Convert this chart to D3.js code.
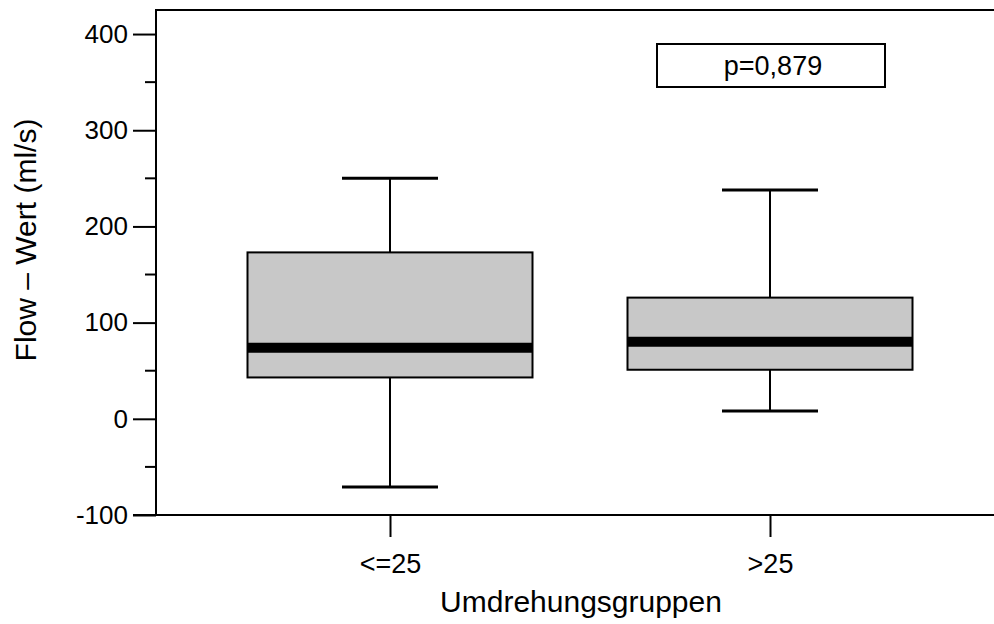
<!DOCTYPE html>
<html>
<head>
<meta charset="utf-8">
<script src="https://cdn.jsdelivr.net/npm/d3@7"></script>
<style>
  body { margin: 0; background: #fff; }
  svg { display: block; font-family: "Liberation Sans", Arial, sans-serif; }
</style>
</head>
<body>
<svg id="chart" width="994" height="624"></svg>
<script>
/* ── Data ───────────────────────────────────────────────────────────────────── */
const groups  = ["<=25", ">25"];
const wMin    = [-71, 8];
const q1      = [43, 51];
const median  = [74, 80];
const q3      = [173, 126];
const wMax    = [250, 238];
const yTicks  = [-100, 0, 100, 200, 300, 400];
const pLabel  = "p=0,879";

/* ── Layout ─────────────────────────────────────────────────────────────────── */
const svg = d3.select("#chart");
const M = { left: 156, right: 994, top: 10, bottom: 515 };
const FONT = "Liberation Sans, Arial, sans-serif";

const y = d3.scaleLinear().domain([-100, 425]).range([M.bottom, M.top]);
const x = d3.scalePoint().domain(groups).range([390, 770]);
const boxW = 285, capW = 96;

// Frame: top line
svg.append("line").attr("x1", M.left).attr("x2", M.right).attr("y1", M.top).attr("y2", M.top)
  .attr("stroke", "#000").attr("stroke-width", 2);

// Y axis (plain hyphen for negatives, as in the original)
const yAxis = d3.axisLeft(y).tickValues(yTicks).tickSize(23).tickPadding(5)
  .tickFormat(d => String(d));
const gy = svg.append("g").attr("transform", `translate(${M.left},0)`).call(yAxis);
gy.select(".domain").remove();
gy.selectAll("line").attr("stroke-width", 2);
gy.selectAll("text").attr("font-size", 26).attr("fill", "#000").attr("font-family", FONT);

// minor ticks
svg.append("g").selectAll("line")
  .data(d3.range(-50, 400, 100))
  .join("line")
  .attr("x1", M.left - 11).attr("x2", M.left)
  .attr("y1", d => y(d)).attr("y2", d => y(d))
  .attr("stroke", "#000").attr("stroke-width", 2);

svg.append("line").attr("x1", M.left).attr("x2", M.left).attr("y1", M.top - 1).attr("y2", M.bottom + 1)
  .attr("stroke", "#000").attr("stroke-width", 2);

// X axis
const xAxis = d3.axisBottom(x).tickSize(22).tickPadding(17);
const gx = svg.append("g").attr("transform", `translate(0,${M.bottom})`).call(xAxis);
gx.select(".domain").remove();
gx.selectAll("line").attr("stroke-width", 2);
gx.selectAll("text").attr("font-size", 27).attr("fill", "#000").attr("font-family", FONT);

svg.append("line").attr("x1", M.left - 23).attr("x2", M.right).attr("y1", M.bottom).attr("y2", M.bottom)
  .attr("stroke", "#000").attr("stroke-width", 2);

/* ── Boxes ──────────────────────────────────────────────────────────────────── */
const g = svg.append("g");
groups.forEach((k, i) => {
  const cx = x(k);
  // whiskers
  g.append("line").attr("x1", cx).attr("x2", cx).attr("y1", y(wMax[i])).attr("y2", y(q3[i]))
    .attr("stroke", "#000").attr("stroke-width", 2);
  g.append("line").attr("x1", cx).attr("x2", cx).attr("y1", y(q1[i])).attr("y2", y(wMin[i]))
    .attr("stroke", "#000").attr("stroke-width", 2);
  [wMax[i], wMin[i]].forEach(v => {
    g.append("line").attr("x1", cx - capW / 2).attr("x2", cx + capW / 2)
      .attr("y1", y(v)).attr("y2", y(v)).attr("stroke", "#000").attr("stroke-width", 3);
  });
  // box
  g.append("rect").attr("x", cx - boxW / 2).attr("width", boxW)
    .attr("y", y(q3[i])).attr("height", y(q1[i]) - y(q3[i]))
    .attr("fill", "#c8c8c8").attr("stroke", "#000").attr("stroke-width", 2);
  // median
  g.append("line").attr("x1", cx - boxW / 2).attr("x2", cx + boxW / 2)
    .attr("y1", y(median[i])).attr("y2", y(median[i]))
    .attr("stroke", "#000").attr("stroke-width", 10);
});

/* ── p-value box ───────────────────────────────────────────────────────────── */
svg.append("rect").attr("x", 657).attr("y", 44).attr("width", 228).attr("height", 43)
  .attr("fill", "#fff").attr("stroke", "#000").attr("stroke-width", 2);
svg.append("text").attr("x", 773).attr("y", 75).attr("text-anchor", "middle")
  .attr("font-size", 27).text(pLabel);

/* ── Titles ─────────────────────────────────────────────────────────────────── */
svg.append("text").attr("x", 581).attr("y", 612).attr("text-anchor", "middle")
  .attr("font-size", 30).text("Umdrehungsgruppen");
svg.append("text").attr("transform", "translate(36,240) rotate(-90)")
  .attr("text-anchor", "middle").attr("font-size", 30).text("Flow – Wert (ml/s)");
</script>
</body>
</html>
